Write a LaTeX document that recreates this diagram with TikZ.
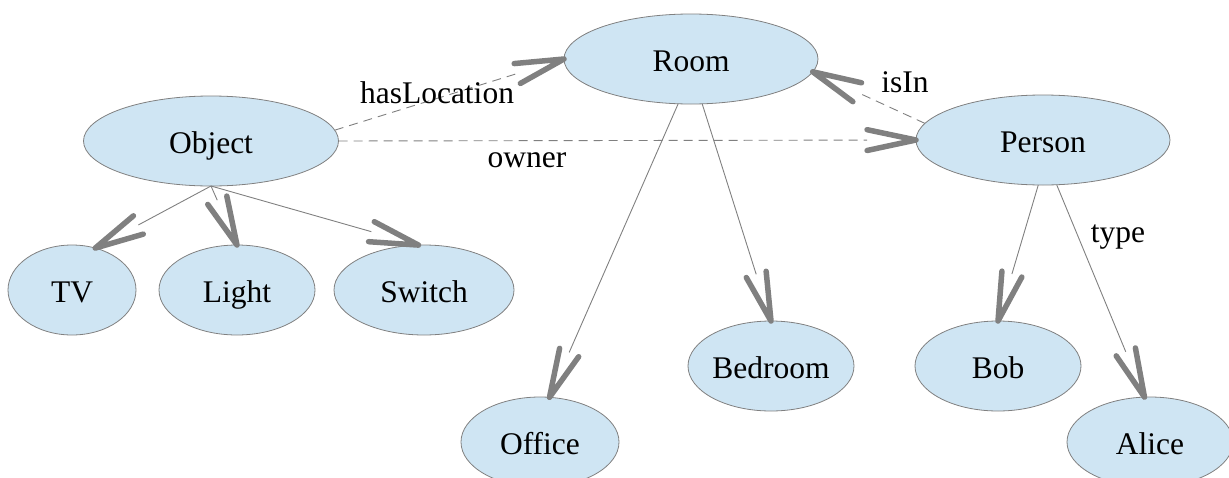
\documentclass[tikz,border=0pt]{standalone}
\usepackage{fontspec}
\setmainfont{Liberation Serif}
\usetikzlibrary{calc,shapes.geometric}
\definecolor{nodefill}{RGB}{207,229,243}
\definecolor{edgegray}{RGB}{128,128,128}
\definecolor{bordergray}{RGB}{128,128,128}
\newcommand\conn[3][]{%
  \path (#2) -- (#3) coordinate[pos=0] (cs) coordinate[pos=1] (ce);
  \draw[relline,#1] (cs) -- ($(ce)!49pt!(cs)$);
  \draw[vhead] ($(ce)!50pt!12:(cs)$) -- (ce) -- ($(ce)!50pt!-12:(cs)$);
}
\begin{document}
\begin{tikzpicture}[x=1pt,y=-1pt,
  ent/.style={ellipse, draw=bordergray, line width=0.8pt, fill=nodefill,
    minimum height=90pt, inner sep=0pt, outer sep=0pt,
    text height=28pt, text depth=4pt,
    font=\fontsize{31.5pt}{36pt}\selectfont},
  relline/.style={draw=edgegray, line width=0.9pt},
  dashedrel/.style={dash pattern=on 9pt off 6pt},
  vhead/.style={draw=edgegray, line width=5.5pt, line cap=round, line join=round},
  lbl/.style={font=\fontsize{31.5pt}{36pt}\selectfont, inner sep=0pt}]
\clip (0,0) rectangle (1229,477);
\node[ent, minimum width=255pt] (obj) at (211,141) {Object};
\node[ent, minimum width=254pt] (room) at (691,59) {Room};
\node[ent, minimum width=254pt] (person) at (1043,140) {Person};
\node[ent, minimum width=128pt] (tv) at (72,290) {TV};
\node[ent, minimum width=156pt] (light) at (237,290) {Light};
\node[ent, minimum width=180pt] (switch) at (424,290) {Switch};
\node[ent, minimum width=158pt] (office) at (540,442) {Office};
\node[ent, minimum width=166pt] (bedroom) at (771,366) {Bedroom};
\node[ent, minimum width=166pt] (bob) at (998,366) {Bob};
\node[ent, minimum width=166pt] (alice) at (1150,442) {Alice};
\conn[dashedrel]{obj.5}{room.west}
\conn[dashedrel]{obj.east}{person.west}
\conn[dashedrel]{person.172}{room.-6}
\conn{room.-106}{office.78}
\conn{room.-76}{bedroom.north}
\conn{person.-96}{bob.north}
\conn{person.-73}{alice.97}
\conn{obj.south}{tv.61}
\conn{obj.south}{light.north}
\conn{obj.south}{switch.97}
\node[lbl] (lhas) at (437,93) {hasLocation};
\node[lbl] (lowner) at (527,160) {owner};
\node[lbl] (lisin) at (905,82) {isIn};
\node[lbl] (ltype) at (1118,237) {type};
\end{tikzpicture}
\end{document}
